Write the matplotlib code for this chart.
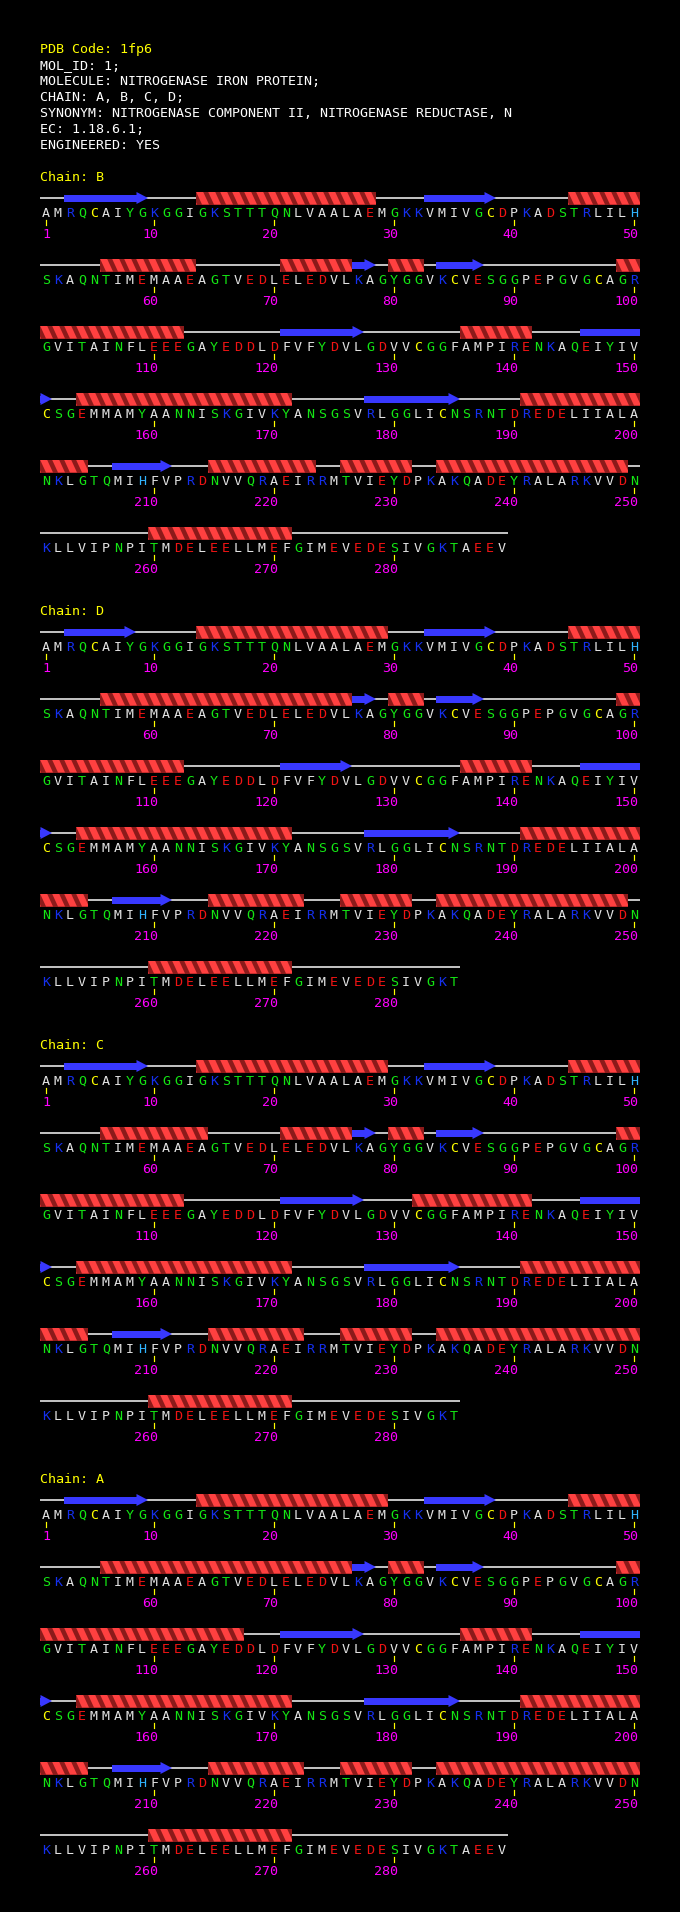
import matplotlib
matplotlib.use('Agg')
import matplotlib.pyplot as plt
from matplotlib.patches import Rectangle, Polygon

# header block
pdb_code = '1fp6'
header_lines = [
    'MOL_ID: 1;',
    'MOLECULE: NITROGENASE IRON PROTEIN;',
    'CHAIN: A, B, C, D;',
    'SYNONYM: NITROGENASE COMPONENT II, NITROGENASE REDUCTASE, N',
    'EC: 1.18.6.1;',
    'ENGINEERED: YES',
]

sequence = ('AMRQCAIYGKGGIGKSTTTQNLVAALAEMGKKVMIVGCDPKADSTRLILH'
            'SKAQNTIMEMAAEAGTVEDLELEDVLKAGYGGVKCVESGGPEPGVGCAGR'
            'GVITAINFLEEEGAYEDDLDFVFYDVLGDVVCGGFAMPIRENKAQEIYIV'
            'CSGEMMAMYAANNISKGIVKYANSGSVRLGGLICNSRNTDREDELIIALA'
            'NKLGTQMIHFVPRDNVVQRAEIRRMTVIEYDPKAKQADEYRALARKVVDN'
            'KLLVIPNPITMDELEELLMEFGIMEVEDESIVGKTAEEV')

chains = ['B', 'D', 'C', 'A']
chain_len = {'B': 289, 'D': 285, 'C': 285, 'A': 289}

# secondary structure (first, last residue)
helix_B = [(14, 28), (45, 50), (56, 63), (71, 76), (80, 82), (99, 112), (136, 141),
           (154, 171), (191, 204), (215, 223), (226, 231), (234, 249), (260, 271)]
strand_B = [(3, 9), (33, 38), (77, 78), (84, 87), (121, 127), (146, 151), (178, 185), (207, 211)]
helix_D = [(14, 29), (45, 50), (56, 76), (80, 82), (99, 112), (136, 141),
           (154, 171), (191, 204), (215, 222), (226, 231), (234, 249), (260, 271)]
strand_D = [(3, 8), (33, 38), (77, 78), (84, 87), (121, 126), (146, 151), (178, 185), (207, 211)]
helix_C = [(14, 29), (45, 50), (56, 64), (71, 76), (80, 82), (99, 112), (132, 141),
           (154, 171), (191, 204), (215, 222), (226, 231), (234, 250), (260, 271)]
strand_C = [(3, 9), (33, 38), (77, 78), (84, 87), (121, 127), (146, 151), (178, 185), (207, 211)]
helix_A = [(14, 29), (45, 50), (56, 76), (80, 82), (99, 117), (136, 141),
           (154, 171), (191, 204), (215, 222), (226, 231), (234, 250), (260, 271)]
strand_A = [(3, 9), (33, 38), (77, 78), (84, 87), (121, 127), (146, 151), (178, 185), (207, 211)]

helices = {'B': helix_B, 'D': helix_D, 'C': helix_C, 'A': helix_A}
strands = {'B': strand_B, 'D': strand_D, 'C': strand_C, 'A': strand_A}

res_color = {}
for aa in 'AVLIMFPW':
    res_color[aa] = '#e2e2e2'
for aa in 'GSTNQY':
    res_color[aa] = '#14e614'
for aa in 'KR':
    res_color[aa] = '#1530f0'
for aa in 'DE':
    res_color[aa] = '#f01414'
res_color['C'] = '#ffff00'
res_color['H'] = '#30b4ff'

PER_ROW = 50
X0 = 40          # left edge of first residue cell
CELL = 12
ROW_STEP = 67
CHAIN_STEP = 434
FONT = 'DejaVu Sans Mono'
FS = 9.6
PT = 0.72        # points per pixel at dpi 100

HEL_BRIGHT = '#ff4040'
HEL_DARK = '#8c1a1a'
STRAND = '#3838ff'

fig = plt.figure(figsize=(6.8, 19.12), dpi=100, facecolor='black')
ax = fig.add_axes([0, 0, 1, 1])
ax.set_xlim(0, 680)
ax.set_ylim(1912, 0)
ax.set_facecolor('black')
ax.axis('off')


def txt(x, y, s, color, ha='left'):
    ax.text(x, y, s, color=color, fontsize=FS, family=FONT, ha=ha, va='baseline')


txt(X0, 53, 'PDB Code: ' + pdb_code, '#ffff00')
for k, line in enumerate(header_lines):
    txt(X0, 69 + 16 * k, line, '#ffffff')


def draw_helix(xl, xr, y):
    top, bot = y - 6.5, y + 6.5
    rect = Rectangle((xl, top), xr - xl, bot - top, facecolor=HEL_DARK, edgecolor='none', zorder=3)
    ax.add_patch(rect)
    n = int(round((xr - xl) / CELL))
    for j in range(-1, n + 1):
        px = xl + CELL * j
        p = Polygon([(px, top), (px + 7, top), (px + 13, bot), (px + 6, bot)],
                    closed=True, facecolor=HEL_BRIGHT, edgecolor='none', zorder=4)
        ax.add_patch(p)
        p.set_clip_path(rect)


def draw_strand(xl, xr, y, head):
    if head:
        hx = max(xl, xr - 11.5)
        if hx > xl:
            ax.add_patch(Rectangle((xl, y - 3.5), hx - xl, 7, facecolor=STRAND,
                                   edgecolor='none', zorder=3))
        ax.add_patch(Polygon([(hx, y - 6), (xr, y), (hx, y + 6)], closed=True,
                             facecolor=STRAND, edgecolor='none', zorder=3))
    else:
        ax.add_patch(Rectangle((xl, y - 3.5), xr - xl, 7, facecolor=STRAND,
                               edgecolor='none', zorder=3))


for ci, ch in enumerate(chains):
    label_base = 181 + CHAIN_STEP * ci
    txt(X0, label_base, 'Chain: ' + ch, '#ffff00')
    n = chain_len[ch]
    seq = sequence[:n]
    nrows = (n + PER_ROW - 1) // PER_ROW
    for r in range(nrows):
        y = label_base + 17 + ROW_STEP * r
        first = r * PER_ROW + 1
        last = min(n, first + PER_ROW - 1)
        ax.plot([X0, X0 + CELL * (last - first + 1)], [y, y], color='white',
                lw=1.5 * PT, solid_capstyle='butt', zorder=2)

        for start, end in helices[ch]:
            s, e = max(start, first), min(end, last)
            if s > e:
                continue
            draw_helix(X0 + CELL * (s - first), X0 + CELL * (e - first + 1), y)
        for start, end in strands[ch]:
            s, e = max(start, first), min(end, last)
            if s > e:
                continue
            draw_strand(X0 + CELL * (s - first), X0 + CELL * (e - first + 1), y, e == end)

        for i in range(first, last + 1):
            cx = X0 + CELL * (i - first) + CELL / 2
            aa = seq[i - 1]
            txt(cx, y + 19, aa, res_color[aa], ha='center')
            if i == 1 or i % 10 == 0:
                ax.plot([cx, cx], [y + 22, y + 27], color='#ffff00', lw=1.2 * PT, zorder=2)
                txt(cx + 4, y + 40, str(i), '#ff00ff', ha='right')

fig.savefig('out.png', dpi=100, facecolor='black')
